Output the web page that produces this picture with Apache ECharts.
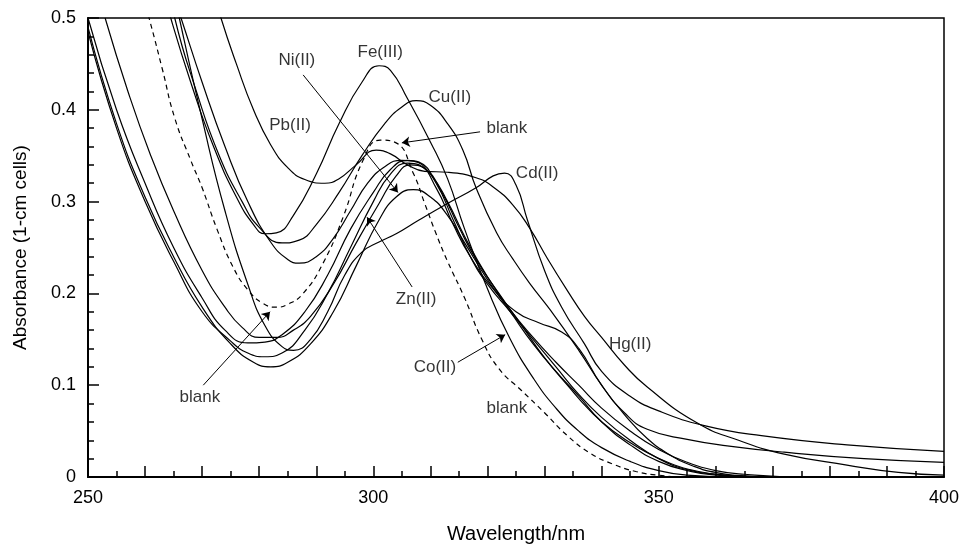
<!DOCTYPE html>
<html>
<head>
<meta charset="utf-8">
<script src="https://cdn.jsdelivr.net/npm/echarts@6/dist/echarts.min.js"></script>
<style>
  html, body { margin: 0; padding: 0; background: #fff; }
  #chart { width: 960px; height: 544px; }
</style>
</head>
<body>
<div id="chart"></div>
<script>
// spectra: [wavelength nm, absorbance]
const feIII = [[260, 0.6], [264.5, 0.5], [268, 0.43], [272, 0.36], [276, 0.305], [279, 0.275], [281, 0.265], [283, 0.266], [286, 0.285], [290, 0.33], [294, 0.385], [298, 0.43], [301, 0.448], [303, 0.443], [306, 0.412], [310, 0.365], [313, 0.325], [316, 0.27], [320, 0.205], [324, 0.15], [328, 0.108], [332, 0.075], [336, 0.05], [340, 0.032], [345, 0.017], [350, 0.007], [355, 0.002], [362, 0], [400, 0]]
const cuII = [[262, 0.6], [265.2, 0.5], [269, 0.42], [273, 0.35], [277, 0.3], [280, 0.272], [284, 0.255], [287, 0.258], [290, 0.275], [294, 0.31], [298, 0.35], [302, 0.385], [305, 0.403], [307.5, 0.41], [310, 0.405], [313, 0.385], [315.7, 0.356], [318, 0.315], [321.6, 0.266], [324.5, 0.237], [327.4, 0.211], [331, 0.182], [336, 0.138], [340, 0.1], [344, 0.068], [348, 0.042], [352, 0.024], [356, 0.012], [360, 0.005], [366, 0.001], [375, 0], [400, 0]]
const pbII = [[270, 0.57], [273.3, 0.5], [276, 0.45], [279, 0.4], [282, 0.362], [285, 0.337], [288, 0.324], [291.5, 0.32], [294, 0.325], [297, 0.34], [300.5, 0.356], [303, 0.352], [306, 0.34], [309, 0.333], [313, 0.332], [318, 0.326], [321, 0.316], [324.5, 0.296], [327.5, 0.27], [330.5, 0.238], [334, 0.203], [337, 0.175], [340, 0.152], [344, 0.122], [348, 0.098], [356.7, 0.059], [364, 0.04], [372, 0.025], [383, 0.013], [392, 0.005], [400, 0.002]]
const hgII = [[262, 0.58], [266.3, 0.5], [270, 0.43], [274, 0.36], [278, 0.3], [282, 0.256], [285, 0.237], [287, 0.233], [290, 0.24], [293, 0.26], [296, 0.29], [299, 0.32], [302, 0.338], [305, 0.345], [307, 0.344], [310, 0.33], [313, 0.3], [316, 0.262], [320, 0.218], [324, 0.182], [328, 0.152], [332, 0.125], [336, 0.1], [340, 0.075], [345, 0.05], [350, 0.03], [355, 0.016], [360, 0.007], [365, 0.003], [375, 0], [400, 0]]
const cdII = [[264, 0.56], [266, 0.5], [270, 0.39], [274, 0.29], [278, 0.21], [281, 0.165], [284, 0.142], [286, 0.138], [289, 0.15], [292, 0.18], [295, 0.22], [298, 0.245], [301, 0.256], [304, 0.265], [308, 0.28], [313, 0.298], [318, 0.315], [321, 0.328], [323, 0.331], [325, 0.318], [327, 0.28], [330, 0.225], [333, 0.185], [337, 0.145], [340, 0.115], [345, 0.088], [350, 0.072], [358, 0.056], [368, 0.045], [383, 0.035], [400, 0.028]]
const znII = [[250, 0.5], [255, 0.4], [260, 0.32], [265, 0.25], [270, 0.195], [274, 0.16], [278, 0.146], [281, 0.147], [284, 0.155], [288, 0.18], [292, 0.22], [296, 0.27], [300, 0.31], [303, 0.335], [306, 0.345], [308, 0.343], [311, 0.32], [314, 0.28], [317, 0.24], [320, 0.21], [324, 0.18], [328, 0.15], [332, 0.12], [336, 0.09], [340, 0.065], [345, 0.04], [350, 0.02], [355, 0.008], [360, 0.003], [370, 0], [400, 0]]
const niII = [[250, 0.49], [255, 0.385], [260, 0.305], [265, 0.24], [270, 0.185], [275, 0.145], [279, 0.125], [282, 0.12], [285, 0.125], [289, 0.145], [293, 0.18], [297, 0.23], [301, 0.28], [304, 0.305], [307, 0.313], [310, 0.305], [313, 0.285], [316, 0.255], [320, 0.215], [324, 0.18], [328, 0.145], [332, 0.115], [336, 0.088], [340, 0.06], [345, 0.035], [350, 0.017], [355, 0.007], [360, 0.002], [370, 0], [400, 0]]
const coII = [[250, 0.485], [255, 0.38], [260, 0.3], [265, 0.235], [270, 0.18], [275, 0.148], [278, 0.135], [281, 0.131], [284, 0.135], [288, 0.16], [292, 0.2], [296, 0.25], [300, 0.3], [303, 0.33], [306, 0.342], [308, 0.34], [311, 0.315], [314, 0.275], [317, 0.24], [321, 0.205], [325, 0.18], [329, 0.168], [333, 0.158], [336, 0.14], [340, 0.1], [344, 0.07], [348, 0.052], [355, 0.041], [362, 0.034], [372, 0.027], [386, 0.02], [400, 0.016]]
const other = [[253, 0.5], [257, 0.42], [261, 0.35], [265, 0.29], [270, 0.225], [274, 0.185], [277, 0.163], [280, 0.152], [283, 0.152], [286, 0.16], [289, 0.175], [293, 0.21], [297, 0.255], [301, 0.298], [304, 0.328], [306.5, 0.34], [309, 0.336], [312, 0.31], [315, 0.272], [318, 0.237], [322, 0.2], [326, 0.165], [330, 0.13], [334, 0.1], [338, 0.072], [342, 0.05], [347, 0.03], [352, 0.015], [357, 0.006], [362, 0.002], [370, 0], [400, 0]]
const blank = [[258, 0.56], [260.7, 0.5], [263, 0.445], [265.2, 0.391], [268, 0.345], [270, 0.315], [272.6, 0.27], [275.4, 0.229], [278, 0.204], [280.7, 0.189], [283, 0.185], [285, 0.188], [287.7, 0.2], [291.2, 0.233], [294.7, 0.283], [298.2, 0.345], [301.2, 0.367], [304, 0.364], [307, 0.331], [309, 0.298], [311, 0.265], [313, 0.235], [316, 0.195], [319, 0.15], [322, 0.118], [326, 0.094], [330, 0.07], [334, 0.045], [338, 0.026], [342, 0.014], [346, 0.006], [350, 0.002], [355, 0], [400, 0]]

const xTickLabels = [250, 300, 350, 400]

const labelText = ['Fe(III)', 'Cu(II)', 'Ni(II)', 'Pb(II)', 'blank', 'Cd(II)', 'Zn(II)', 'blank', 'Co(II)', 'blank', 'Hg(II)']
const labelX = [301.2, 313.4, 286.6, 285.4, 323.4, 328.7, 307.5, 269.6, 310.8, 323.4, 345]
const labelY = [0.463, 0.414, 0.454, 0.383, 0.38, 0.331, 0.194, 0.087, 0.119, 0.075, 0.144]

const arrowFrom = [[287.7, 0.438], [318.7, 0.376], [306.8, 0.207], [270.2, 0.1], [314.8, 0.125]]
const arrowTo = [[304.3, 0.31], [305.0, 0.364], [298.9, 0.283], [281.9, 0.18], [323.1, 0.155]]

const font = 'Liberation Sans, Arial, Helvetica, sans-serif'
const solid = [feIII, cuII, pbII, hgII, cdII, znII, niII, coII, other]

function curve(data, dashed) {
  return {
    type: 'line',
    data: data,
    smooth: 0.5,
    showSymbol: false,
    silent: true,
    lineStyle: { color: '#000', width: 1.2, type: dashed ? [5, 4] : 'solid' }
  }
}

const chart = echarts.init(document.getElementById('chart'))
chart.setOption({
  animation: false,
  backgroundColor: '#fff',
  grid: {
    left: 88, right: 16, top: 18, bottom: 67, outerBoundsMode: 'none',
    show: true, borderColor: '#000', borderWidth: 1.5
  },
  xAxis: {
    type: 'value', min: 250, max: 400, interval: 10,
    name: 'Wavelength/nm', nameLocation: 'middle', nameGap: 47,
    nameTextStyle: { color: '#000', fontSize: 20, fontFamily: font },
    axisLine: { lineStyle: { color: '#000', width: 2 } },
    axisTick: { inside: true, length: 11, lineStyle: { color: '#000', width: 1.5 } },
    minorTick: { show: true, splitNumber: 2, length: 6, lineStyle: { color: '#000', width: 1.5 } },
    axisLabel: {
      color: '#000', fontSize: 18, fontFamily: font, margin: 12,
      formatter: v => xTickLabels.includes(v) ? String(v) : ''
    },
    splitLine: { show: false }
  },
  yAxis: {
    type: 'value', min: 0, max: 0.5, interval: 0.1,
    name: 'Absorbance (1-cm cells)', nameLocation: 'middle', nameGap: 58,
    nameTextStyle: { color: '#000', fontSize: 19, fontFamily: font },
    axisLine: { lineStyle: { color: '#000', width: 2 } },
    axisTick: { inside: true, length: 11, lineStyle: { color: '#000', width: 1.5 } },
    minorTick: { show: true, splitNumber: 5, length: 6, lineStyle: { color: '#000', width: 1.5 } },
    axisLabel: { color: '#000', fontSize: 18, fontFamily: font, margin: 12 },
    splitLine: { show: false }
  },
  series: solid.map(d => curve(d, false)).concat([
    curve(blank, true),
    {
      type: 'lines',
      coordinateSystem: 'cartesian2d',
      symbol: ['none', 'arrow'],
      symbolSize: 8,
      silent: true,
      lineStyle: { color: '#000', width: 1, opacity: 1 },
      data: arrowFrom.map((s, i) => ({ coords: [s, arrowTo[i]] }))
    },
    {
      type: 'scatter',
      symbol: 'circle',
      symbolSize: 2,
      silent: true,
      itemStyle: { color: 'rgba(0,0,0,0)' },
      label: { show: true, position: 'inside', formatter: '{b}', color: '#000', fontSize: 17, fontFamily: font },
      data: labelX.map((x, i) => ({ name: labelText[i], value: [x, labelY[i]] }))
    }
  ])
})
</script>
</body>
</html>
